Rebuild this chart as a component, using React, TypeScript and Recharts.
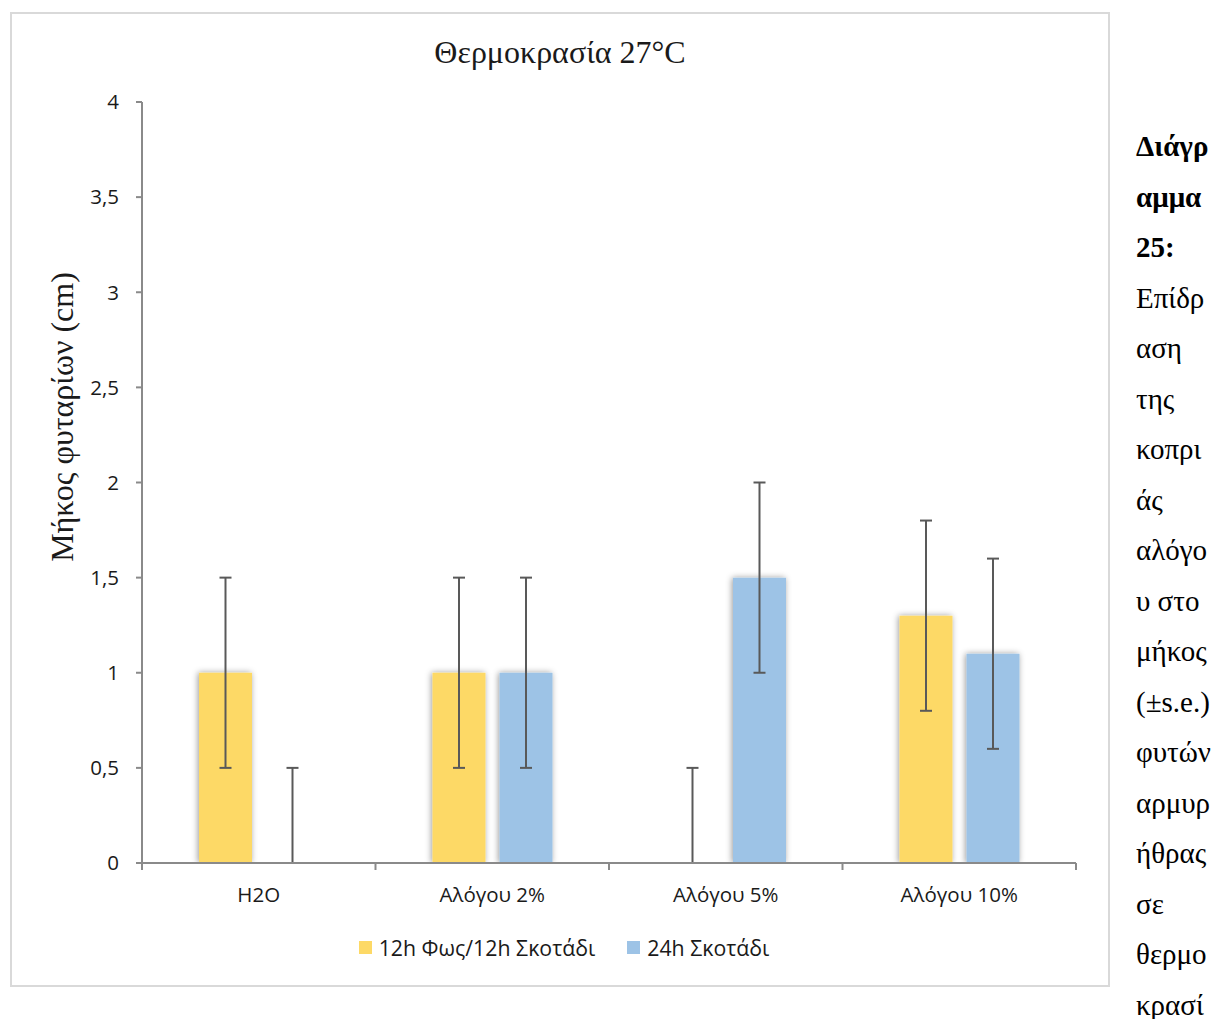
import {
  BarChart,
  Bar,
  XAxis,
  YAxis,
  Legend,
  Label,
} from "recharts";

const CATEGORIES = ["H2O", "Αλόγου 2%", "Αλόγου 5%", "Αλόγου 10%"];
const LIGHT_VALUES = [1, 1, 0, 1.3];
const DARK_VALUES = [0, 1, 1.5, 1.1];
// s.e. below / above each mean (nothing shown below the zero bars)
const LIGHT_ERR_LOW = [0.5, 0.5, 0, 0.5];
const LIGHT_ERR_HIGH = [0.5, 0.5, 0.5, 0.5];
const DARK_ERR_LOW = [0, 0.5, 0.5, 0.5];
const DARK_ERR_HIGH = [0.5, 0.5, 0.5, 0.5];
const Y_TICKS = [0, 0.5, 1, 1.5, 2, 2.5, 3, 3.5, 4];

const SERIES_NAMES = ["12h Φως/12h Σκοτάδι", "24h Σκοτάδι"];
const TITLE = "Θερμοκρασία 27°C";
const Y_LABEL = "Μήκος φυταρίων (cm)";
const CAPTION_BOLD = ["Διάγρ", "αμμα", "25:"];
const CAPTION = [
  "Επίδρ", "αση", "της", "κοπρι", "άς", "αλόγο", "υ στο", "μήκος",
  "(±s.e.)", "φυτών", "αρμυρ", "ήθρας", "σε", "θερμο", "κρασί",
];

const YELLOW = "#fdd966";
const BLUE = "#9dc3e6";
const AXIS = "#8a8a8a";
const WHISKER = "#595959";
const SANS = "'Open Sans', 'Noto Sans', sans-serif";
const SERIF = "'Liberation Serif', 'DejaVu Serif', serif";

// ErrorBar skips zero-height bars in recharts 3, so whiskers are drawn as
// range bars [mean - se, mean + se] on a hidden twin category axis.
const data = CATEGORIES.map((name, i) => ({
  name,
  light: LIGHT_VALUES[i],
  dark: DARK_VALUES[i],
  lightRange: [LIGHT_VALUES[i] - LIGHT_ERR_LOW[i], LIGHT_VALUES[i] + LIGHT_ERR_HIGH[i]],
  darkRange: [DARK_VALUES[i] - DARK_ERR_LOW[i], DARK_VALUES[i] + DARK_ERR_HIGH[i]],
}));

const TICK_SIZE = 7;
const TICK_MARGIN = 2;
const CAP = 12;

const makeWhisker = (rangeKey: string) => (props: any) => {
  const { x, y, width, height, payload } = props;
  if (height == null || isNaN(height)) return <g />;
  const cx = x + width / 2;
  const top = Math.min(y, y + height);
  const bottom = Math.max(y, y + height);
  const showLowCap = payload[rangeKey][0] > 0;
  return (
    <g stroke={WHISKER} strokeWidth={2}>
      <line x1={cx} x2={cx} y1={top} y2={bottom} />
      <line x1={cx - CAP / 2} x2={cx + CAP / 2} y1={top} y2={top} />
      {showLowCap && <line x1={cx - CAP / 2} x2={cx + CAP / 2} y1={bottom} y2={bottom} />}
    </g>
  );
};

const CategoryTick = (props: any) => {
  const { x, y, payload, index, visibleTicksCount } = props;
  const axisY = y - TICK_SIZE - TICK_MARGIN;
  const half = payload.offset ?? 0;
  return (
    <g>
      <line x1={x - half} x2={x - half} y1={axisY} y2={axisY + TICK_SIZE} stroke={AXIS} strokeWidth={2} />
      {index === visibleTicksCount - 1 && (
        <line x1={x + half} x2={x + half} y1={axisY} y2={axisY + TICK_SIZE} stroke={AXIS} strokeWidth={2} />
      )}
      <text x={x} y={axisY + 31} textAnchor="middle" dominantBaseline="central" fill="#1a1a1a" fontSize={20.5} fontFamily={SANS}>
        {payload.value}
      </text>
    </g>
  );
};

const LegendContent = () => (
  <div style={{ height: 30, marginLeft: 12, display: "flex", justifyContent: "center", alignItems: "center", fontFamily: SANS, fontSize: 21.3, color: "#1a1a1a" }}>
    {SERIES_NAMES.map((n, i) => (
      <span key={n} style={{ display: "flex", alignItems: "center", marginRight: i === 0 ? 32 : 0 }}>
        <span style={{ width: 13, height: 13, background: i === 0 ? YELLOW : BLUE, marginRight: 7, display: "inline-block" }} />
        {n}
      </span>
    ))}
  </div>
);

export default function App() {
  return (
    <div style={{ position: "relative", width: 1216, height: 1011, overflow: "hidden" }}>
      <div style={{ position: "absolute", left: 2, top: 4, width: 1096, height: 971, border: "2px solid #d9d9d9" }} />
      <div style={{ position: "absolute", left: 2, top: 4, width: 1100, height: 975 }}>
        <div style={{ position: "absolute", left: 0, top: 22, width: 1100, textAlign: "center", fontFamily: SERIF, fontSize: 32, color: "#1a1a1a", lineHeight: "36px" }}>
          {TITLE}
        </div>
        <BarChart
          width={1100}
          height={975}
          data={data}
          margin={{ top: 90, right: 34, left: 30, bottom: 25 }}
          barSize={53}
          barGap={14}
        >
          <defs>
            <filter id="barShadow" x="-30%" y="-10%" width="160%" height="120%">
              <feDropShadow dx={-1} dy={0} stdDeviation={3} floodColor="#000" floodOpacity={0.4} />
            </filter>
          </defs>
          <XAxis
            dataKey="name"
            height={69}
            axisLine={{ stroke: AXIS, strokeWidth: 2 }}
            tickLine={{ stroke: "none" }}
            tickSize={TICK_SIZE}
            tickMargin={TICK_MARGIN}
            tick={<CategoryTick />}
            interval={0}
          />
          <XAxis xAxisId="whisker" dataKey="name" hide />
          <YAxis
            type="number"
            domain={[0, 4]}
            ticks={Y_TICKS}
            width={102}
            allowDataOverflow
            axisLine={{ stroke: AXIS, strokeWidth: 2 }}
            tickLine={{ stroke: AXIS, strokeWidth: 2 }}
            tickSize={6}
            tickMargin={17}
            tick={{ fill: "#1a1a1a", fontSize: 20.5, fontFamily: SANS }}
            tickFormatter={(v: number) => String(v).replace(".", ",")}
          >
            <Label
              content={() => (
                <text
                  x={52}
                  y={405}
                  transform="rotate(-90 52 405)"
                  textAnchor="middle"
                  dominantBaseline="central"
                  fontFamily={SERIF}
                  fontSize={32}
                  fill="#1a1a1a"
                >
                  {Y_LABEL}
                </text>
              )}
            />
          </YAxis>
          <Legend content={<LegendContent />} verticalAlign="bottom" />
          <Bar dataKey="light" name={SERIES_NAMES[0]} fill={YELLOW} isAnimationActive={false} style={{ filter: "url(#barShadow)" }} />
          <Bar dataKey="dark" name={SERIES_NAMES[1]} fill={BLUE} isAnimationActive={false} style={{ filter: "url(#barShadow)" }} />
          <Bar xAxisId="whisker" dataKey="lightRange" legendType="none" isAnimationActive={false} shape={makeWhisker("lightRange")} />
          <Bar xAxisId="whisker" dataKey="darkRange" legendType="none" isAnimationActive={false} shape={makeWhisker("darkRange")} />
        </BarChart>
      </div>
      <div style={{ position: "absolute", left: 1128, top: 113, fontFamily: SERIF, fontSize: 29, color: "#000", lineHeight: "50.5px" }}>
        {CAPTION_BOLD.map((t) => (
          <div key={t} style={{ fontWeight: "bold" }}>{t}</div>
        ))}
        {CAPTION.map((t) => (
          <div key={t}>{t}</div>
        ))}
      </div>
    </div>
  );
}
